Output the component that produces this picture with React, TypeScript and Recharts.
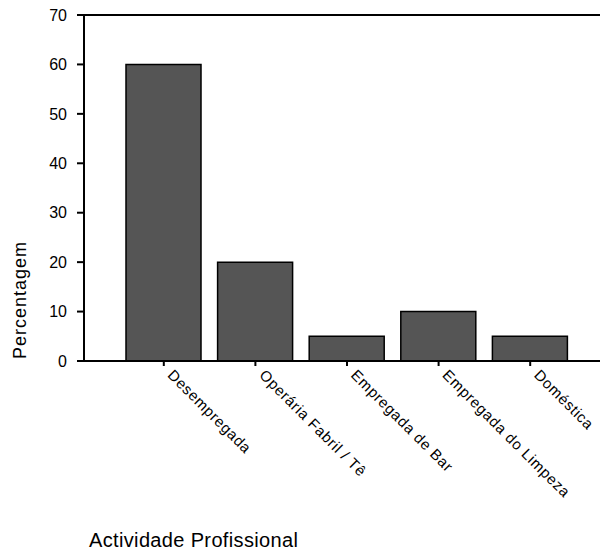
import React from 'react'
import { BarChart, Bar, XAxis, YAxis, ReferenceLine } from 'recharts'

const categories = [
  'Desempregada',
  'Operária Fabril / Tê',
  'Empregada de Bar',
  'Empregada do Limpeza',
  'Doméstica',
]
const percentages = [60, 20, 5, 10, 5]
const yTicks = [0, 10, 20, 30, 40, 50, 60, 70]

const data = categories.map((name, i) => ({ name, value: percentages[i] }))

const font = 'Arial, "Liberation Sans", Helvetica, sans-serif'

function RotatedTick(props: any) {
  const { x, y, payload } = props
  return (
    <g transform={`translate(${x + 3},${y + 8})`}>
      <text
        x={0}
        y={0}
        transform="rotate(45)"
        textAnchor="start"
        fontSize={15}
        letterSpacing={0.7}
        fontFamily={font}
        fill="#000"
      >
        {payload.value}
      </text>
    </g>
  )
}

export default function App() {
  return (
    <div style={{ position: 'absolute', left: 0, top: 0, width: 601, height: 550, background: '#fff' }}>
      <BarChart
        width={601}
        height={550}
        data={data}
        margin={{ top: 15, right: 1, bottom: 149, left: 24 }}
        barSize={75}
      >
        <XAxis
          dataKey="name"
          interval={0}
          padding={{ left: 34, right: 24 }}
          axisLine={{ stroke: '#000', strokeWidth: 2 }}
          tickLine={{ stroke: '#000', strokeWidth: 2 }}
          tickSize={5}
          tick={<RotatedTick />}
          height={40}
        />
        <YAxis
          width={60}
          domain={[0, 70]}
          ticks={yTicks}
          interval={0}
          axisLine={{ stroke: '#000', strokeWidth: 2 }}
          tickLine={{ stroke: '#000', strokeWidth: 2 }}
          tickSize={7}
          tickMargin={10}
          tick={{ fontSize: 16, fill: '#000', fontFamily: font }}
        />
        <ReferenceLine y={70} stroke="#000" strokeWidth={2} />
        <Bar
          dataKey="value"
          fill="#555555"
          stroke="#000"
          strokeWidth={1.5}
          isAnimationActive={false}
        />
      </BarChart>
      <div
        style={{
          position: 'absolute',
          left: 20,
          top: 300,
          transform: 'translate(-50%, -50%) rotate(-90deg)',
          fontFamily: font,
          fontSize: 18,
          letterSpacing: 1,
          whiteSpace: 'nowrap',
        }}
      >
        Percentagem
      </div>
      <div
        style={{
          position: 'absolute',
          left: 89,
          top: 529,
          fontFamily: font,
          fontSize: 20,
          letterSpacing: 0.35,
          whiteSpace: 'nowrap',
        }}
      >
        Actividade Profissional
      </div>
    </div>
  )
}
